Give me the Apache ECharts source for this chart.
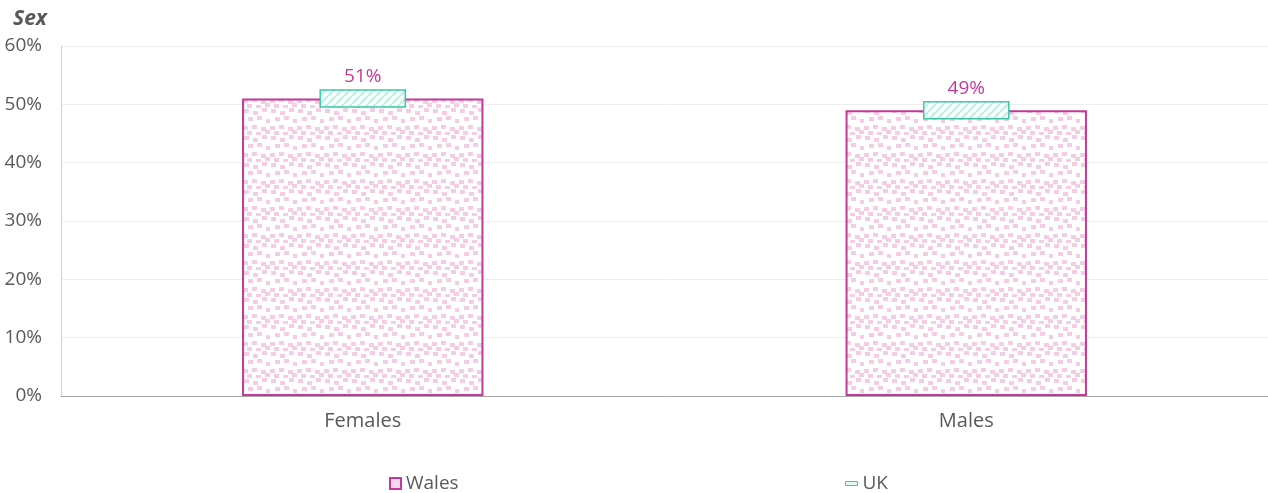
<!DOCTYPE html>
<html>
<head>
<meta charset="utf-8">
<script src="https://cdn.jsdelivr.net/npm/echarts@6/dist/echarts.min.js"></script>
<style>
  html, body { margin: 0; padding: 0; background: #fff; }
  #chart { width: 1268px; height: 493px; }
</style>
</head>
<body>
<div id="chart"></div>
<script>
// 数据
const categories = ['Females', 'Males'];
const walesValues = [51, 49];
const ukValues = [51, 49];
const yTicks = [0, 10, 20, 30, 40, 50, 60];

const FONT = '"Open Sans", sans-serif';
const GREY = '#595959';
const MAGENTA = '#c2399a';
const TEAL = '#3cc8a8';

// 粉色点状填充
function dotPattern() {
  const c = document.createElement('canvas');
  c.width = 27; c.height = 27;
  const ctx = c.getContext('2d');
  ctx.fillStyle = '#ffffff';
  ctx.fillRect(0, 0, 27, 27);
  ctx.fillStyle = '#f4cde5';
  const pts = [[1,1],[10,3],[19,0],[5,9],[14,8],[23,11],[0,18],[9,17],[18,19],[4,23],[13,24],[22,22]];
  pts.forEach(p => ctx.fillRect(p[0], p[1], 5, 4));
  return c;
}

// 青色斜线填充
function hatchPattern() {
  const c = document.createElement('canvas');
  c.width = 8; c.height = 8;
  const ctx = c.getContext('2d');
  ctx.fillStyle = '#ffffff';
  ctx.fillRect(0, 0, 8, 8);
  ctx.strokeStyle = '#c4f1e4';
  ctx.lineWidth = 2.5;
  for (let k = -8; k <= 16; k += 8) {
    ctx.beginPath();
    ctx.moveTo(k, 8);
    ctx.lineTo(k + 8, 0);
    ctx.stroke();
  }
  return c;
}

const dots = dotPattern();
const hatch = hatchPattern();

const chart = echarts.init(document.getElementById('chart'));

// UK 标记: 以数值为中心的小矩形
function renderUK(params, api) {
  const pt = api.coord([api.value(0), api.value(1)]);
  const bandW = api.size([1, 0])[0];
  const w = bandW * 0.141;
  const h = 17;
  return {
    type: 'rect',
    shape: { x: pt[0] - w / 2, y: pt[1] - h / 2, width: w, height: h },
    style: {
      fill: { image: hatch, repeat: 'repeat' },
      stroke: TEAL,
      lineWidth: 1.5
    },
    textContent: {
      style: {
        text: api.value(1) + '%',
        fontFamily: FONT,
        fontSize: 19,
        fill: MAGENTA
      }
    },
    textConfig: { position: 'top', distance: 3 }
  };
}

chart.setOption({
  animation: false,
  backgroundColor: '#fff',
  title: {
    text: 'Sex',
    left: 8,
    top: 4,
    textStyle: { fontFamily: FONT, fontSize: 21, fontWeight: 'bold', fontStyle: 'italic', color: GREY }
  },
  grid: { left: 61, right: 0, top: 46, bottom: 97 },
  legend: [
    {
      left: 384, top: 469,
      itemWidth: 11, itemHeight: 11, itemGap: 4,
      textStyle: { fontFamily: FONT, fontSize: 19, color: GREY },
      data: [{ name: 'Wales', icon: 'rect', itemStyle: { color: '#f6d6ea', borderColor: MAGENTA, borderWidth: 2 } }]
    },
    {
      left: 840, top: 469,
      itemWidth: 12, itemHeight: 4, itemGap: 4,
      textStyle: { fontFamily: FONT, fontSize: 19, color: GREY },
      data: [{ name: 'UK', icon: 'rect', itemStyle: { color: '#e2f8f1', borderColor: TEAL, borderWidth: 1 } }]
    }
  ],
  xAxis: {
    type: 'category',
    data: categories,
    axisTick: { show: false },
    axisLine: { lineStyle: { color: '#a6a6a6', width: 1 } },
    axisLabel: { fontFamily: FONT, fontSize: 20, color: GREY, margin: 15 }
  },
  yAxis: {
    type: 'value',
    min: yTicks[0],
    max: yTicks[yTicks.length - 1],
    interval: 10,
    axisLine: { show: true, lineStyle: { color: '#d0d0d0' } },
    axisTick: { show: false },
    splitLine: { lineStyle: { color: '#eeeeee' } },
    axisLabel: { fontFamily: FONT, fontSize: 19, color: GREY, margin: 19, formatter: '{value}%' }
  },
  series: [
    {
      name: 'Wales',
      type: 'bar',
      data: walesValues,
      barWidth: '40%',
      itemStyle: {
        color: { image: dots, repeat: 'repeat' },
        borderColor: MAGENTA,
        borderWidth: 2
      }
    },
    {
      name: 'UK',
      type: 'custom',
      data: ukValues.map((v, i) => [i, v]),
      encode: { x: 0, y: 1 },
      renderItem: renderUK,
      z: 5
    }
  ]
});
</script>
</body>
</html>
